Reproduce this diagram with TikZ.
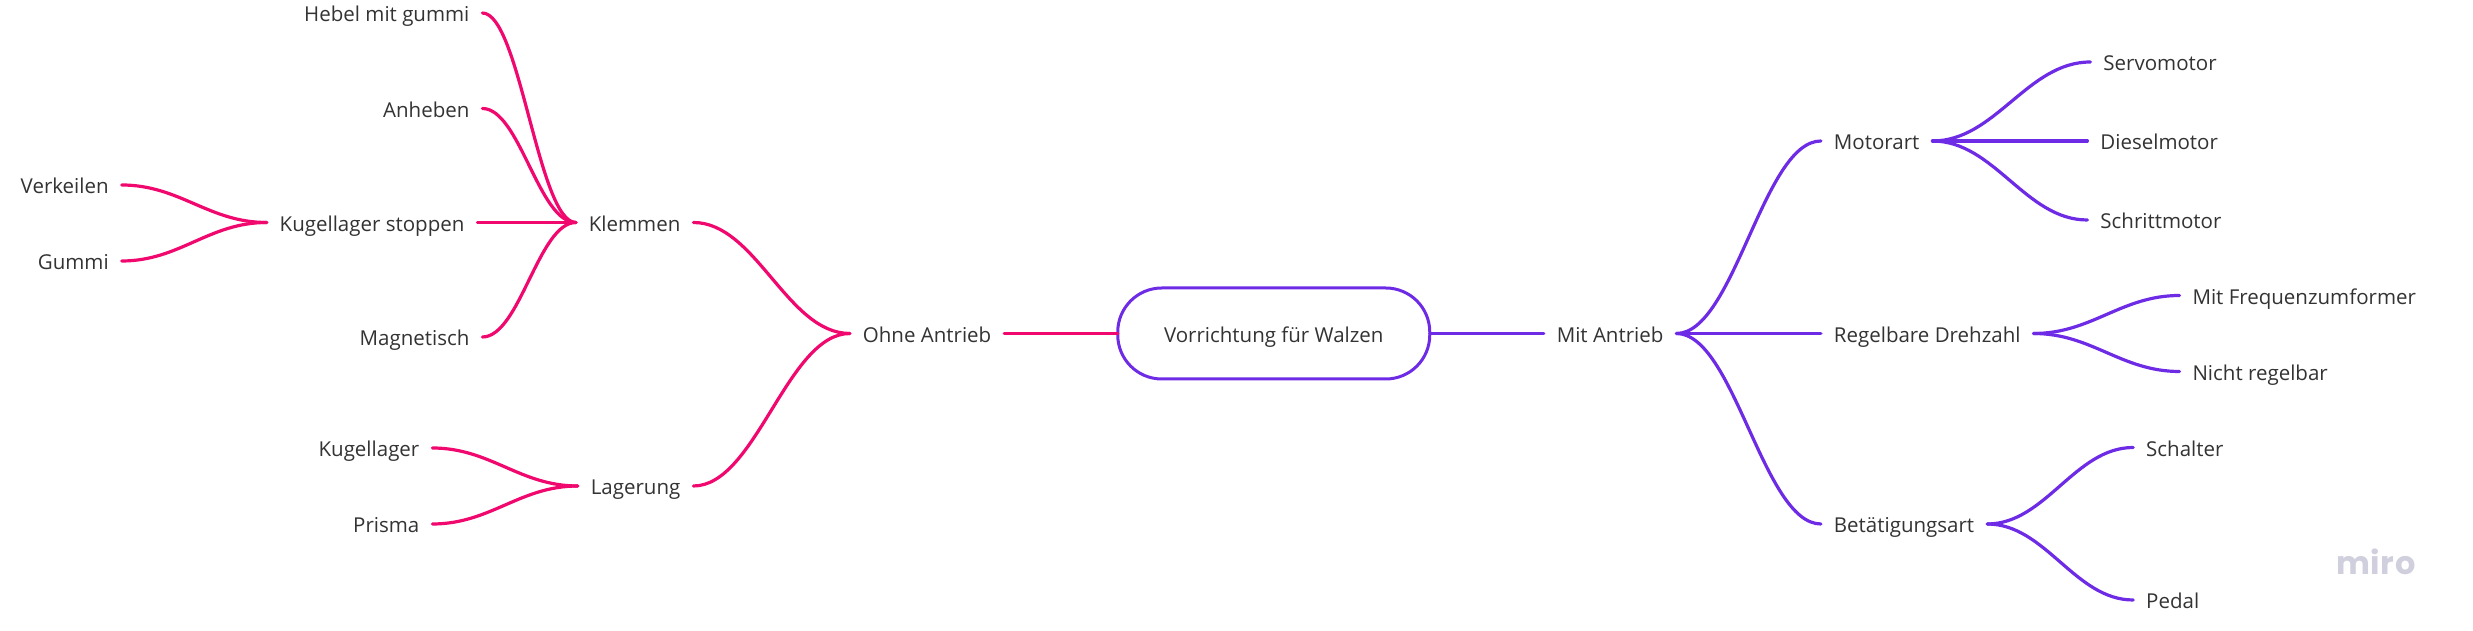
\documentclass[tikz,border=0pt]{standalone}
\usepackage{fontspec}
\setmainfont{Open Sans}
\newfontfamily\logofont[LetterSpace=2]{Poppins}
\usetikzlibrary{positioning, calc}
\definecolor{pinkline}{HTML}{F0086E}
\definecolor{purpleline}{HTML}{6E2BE6}
\definecolor{labeltext}{HTML}{333333}
\definecolor{logogray}{HTML}{CFCFDD}
\tikzstyle{topic} = [rectangle, rounded corners=44pt, minimum width=312pt, minimum height=91pt, text centered, draw=purpleline, line width=3pt, text=labeltext, outer sep=0pt, font=\fontsize{20.5}{24}\selectfont, text height=18pt, text depth=0pt]
\tikzstyle{item} = [rectangle, inner xsep=13pt, inner ysep=0pt, outer sep=0pt, text=labeltext, font=\fontsize{20.5}{24}\selectfont, text height=18pt, text depth=0pt]
\tikzstyle{branch} = [line width=3.2pt, line cap=round, to path={(\tikztostart) .. controls ($(\tikztostart)!.4!(\tikztotarget |- \tikztostart)$) and ($(\tikztotarget)!.4!(\tikztostart |- \tikztotarget)$) .. (\tikztotarget)}]
\tikzstyle{pinkarrow} = [branch, draw=pinkline]
\tikzstyle{purplearrow} = [branch, draw=purpleline]

\begin{document}
\begin{tikzpicture}[x=1pt, y=1pt]
    \useasboundingbox (0,0) rectangle (2473,631);

    %nodes
    \node (root) [topic] at (1273.75,297.5) {Vorrichtung für Walzen};

    \node (ohne) [item, left=113.5pt of root] {Ohne Antrieb};
    \node (klemmen) [item, left=156.5pt of ohne, yshift=111pt] {Klemmen};
    \node (lagerung) [item, left=156.5pt of ohne, yshift=-152.5pt] {Lagerung};
    \node (hebel) [item, left=93.5pt of klemmen, yshift=209.5pt] {Hebel mit gummi};
    \node (anheben) [item, left=93.5pt of klemmen, yshift=114pt] {Anheben};
    \node (stoppen) [item, left=98.5pt of klemmen] {Kugellager stoppen};
    \node (magnetisch) [item, left=93.5pt of klemmen, yshift=-114.5pt] {Magnetisch};
    \node (verkeilen) [item, left=145pt of stoppen, yshift=37.5pt] {Verkeilen};
    \node (gummi) [item, left=145pt of stoppen, yshift=-38.5pt] {Gummi};
    \node (kugellager) [item, left=145.5pt of lagerung, yshift=38pt] {Kugellager};
    \node (prisma) [item, left=145.5pt of lagerung, yshift=-38pt] {Prisma};

    \node (mit) [item, right=114pt of root] {Mit Antrieb};
    \node (motorart) [item, right=144.5pt of mit, yshift=192.5pt] {Motorart};
    \node (drehzahl) [item, right=144.5pt of mit] {Regelbare Drehzahl};
    \node (betaetigung) [item, right=144.5pt of mit, yshift=-190.5pt] {Betätigungsart};
    \node (servo) [item, right=158pt of motorart, yshift=79pt] {Servomotor};
    \node (diesel) [item, right=155pt of motorart] {Dieselmotor};
    \node (schritt) [item, right=155pt of motorart, yshift=-79pt] {Schrittmotor};
    \node (frequenz) [item, right=146pt of drehzahl, yshift=38pt] {Mit Frequenzumformer};
    \node (nicht) [item, right=146pt of drehzahl, yshift=-38pt] {Nicht regelbar};
    \node (schalter) [item, right=146pt of betaetigung, yshift=76.5pt] {Schalter};
    \node (pedal) [item, right=146pt of betaetigung, yshift=-76pt] {Pedal};

    \node (logo) [text=logogray, font=\logofont\fontsize{32}{40}\selectfont\bfseries, inner sep=0pt] at (2376,69) {miro};

    %arrows
    \draw [pinkarrow] (root.west) -- (ohne.east);
    \draw [pinkarrow] (ohne.west) to (klemmen.east);
    \draw [pinkarrow] (ohne.west) to (lagerung.east);
    \draw [pinkarrow] (klemmen.west) to (hebel.east);
    \draw [pinkarrow] (klemmen.west) to (anheben.east);
    \draw [pinkarrow] (klemmen.west) -- (stoppen.east);
    \draw [pinkarrow] (klemmen.west) to (magnetisch.east);
    \draw [pinkarrow] (stoppen.west) to (verkeilen.east);
    \draw [pinkarrow] (stoppen.west) to (gummi.east);
    \draw [pinkarrow] (lagerung.west) to (kugellager.east);
    \draw [pinkarrow] (lagerung.west) to (prisma.east);

    \draw [purplearrow] (root.east) -- (mit.west);
    \draw [purplearrow] (mit.east) to (motorart.west);
    \draw [purplearrow] (mit.east) -- (drehzahl.west);
    \draw [purplearrow] (mit.east) to (betaetigung.west);
    \draw [purplearrow] (motorart.east) to (servo.west);
    \draw [purplearrow] (motorart.east) -- (diesel.west);
    \draw [purplearrow] (motorart.east) to (schritt.west);
    \draw [purplearrow] (drehzahl.east) to (frequenz.west);
    \draw [purplearrow] (drehzahl.east) to (nicht.west);
    \draw [purplearrow] (betaetigung.east) to (schalter.west);
    \draw [purplearrow] (betaetigung.east) to (pedal.west);
\end{tikzpicture}
\end{document}
